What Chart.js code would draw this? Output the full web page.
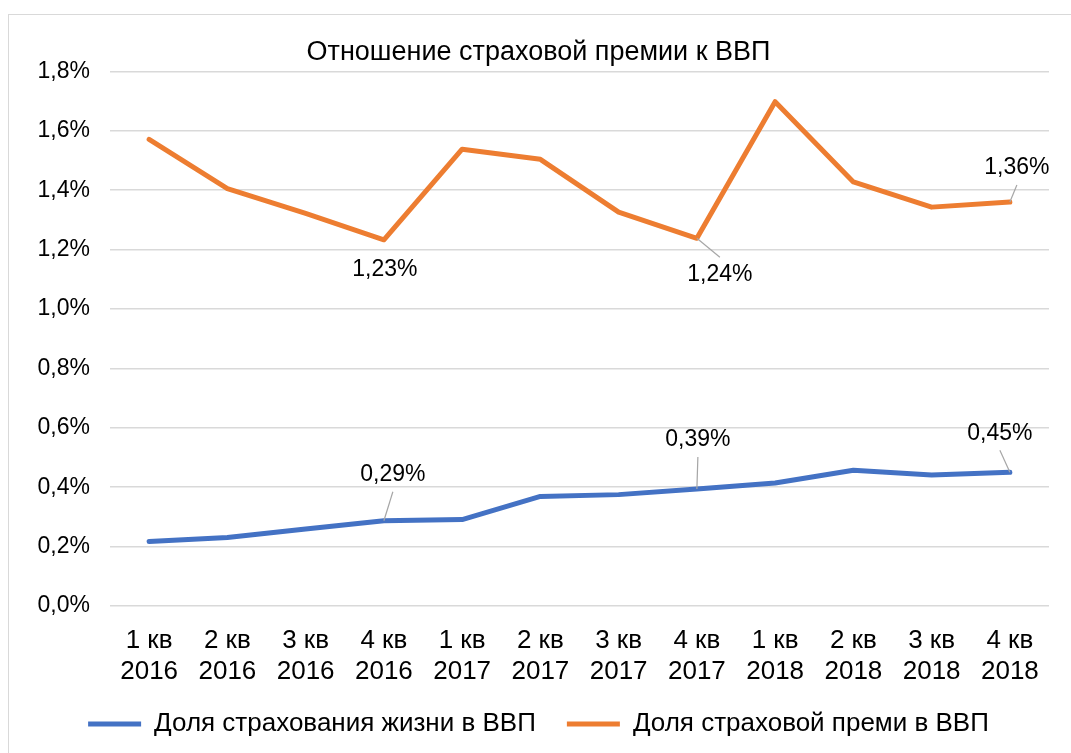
<!DOCTYPE html>
<html><head><meta charset="utf-8">
<script src="https://cdn.jsdelivr.net/npm/chart.js@4/dist/chart.umd.min.js"></script>
<style>
html,body{margin:0;padding:0;background:#fff;overflow:hidden;width:1071px;height:753px}
#frame{position:absolute;left:8px;top:14px;width:1100px;height:800px;border:1px solid #d9d9d9}
#wrap{position:absolute;left:0;top:0;width:1071px;height:753px}
</style></head>
<body>
<div id="frame"></div>
<div id="wrap"><canvas id="c" width="1071" height="753"></canvas></div>
<script>
const categories = [
  ['1 кв','2016'],['2 кв','2016'],['3 кв','2016'],['4 кв','2016'],
  ['1 кв','2017'],['2 кв','2017'],['3 кв','2017'],['4 кв','2017'],
  ['1 кв','2018'],['2 кв','2018'],['3 кв','2018'],['4 кв','2018']
];
const lifeShare    = [0.217, 0.231, 0.259, 0.287, 0.291, 0.369, 0.375, 0.394, 0.414, 0.457, 0.441, 0.450];
const premiumShare = [1.571, 1.405, 1.322, 1.233, 1.538, 1.504, 1.326, 1.238, 1.698, 1.428, 1.343, 1.360];
const seriesNames  = ['Доля страхования жизни в ВВП', 'Доля страховой преми в ВВП'];
const yMin = 0, yMax = 1.8, yStep = 0.2;
const lifeLabelIdx = [3, 7, 11];
const premiumLabelIdx = [3, 7, 11];
const titleText = 'Отношение страховой премии к ВВП';

const FONT = "'Liberation Sans', Arial, sans-serif";
const fmt = (v, d) => v.toFixed(d).replace('.', ',') + '%';

// label placement relative to the point (dx, dy of label centre), leader line flag
const labelPlacement = {
  0: {3: {dx: 9, dy: -46, lead: true}, 7: {dx: 1, dy: -49, lead: true}, 11: {dx: -10, dy: -39, lead: true}},
  1: {3: {dx: 1, dy: 30, lead: false}, 7: {dx: 23, dy: 36, lead: true}, 11: {dx: 7, dy: -34, lead: true}}
};
const labelIdx = [lifeLabelIdx, premiumLabelIdx];

const dataLabels = {
  id: 'dataLabels',
  afterDatasetsDraw(chart) {
    const ctx = chart.ctx;
    ctx.save();
    ctx.font = '23px ' + FONT;
    ctx.textAlign = 'center';
    ctx.textBaseline = 'middle';
    chart.data.datasets.forEach((ds, di) => {
      const meta = chart.getDatasetMeta(di);
      labelIdx[di].forEach(idx => {
        const pt = meta.data[idx];
        const p = labelPlacement[di][idx];
        const cx = pt.x + p.dx, cy = pt.y + p.dy;
        if (p.lead) {
          const ey = cy + (p.dy < 0 ? 17 : -17);
          ctx.strokeStyle = '#a6a6a6';
          ctx.lineWidth = 1.2;
          ctx.beginPath();
          ctx.moveTo(pt.x, pt.y);
          ctx.lineTo(cx, ey);
          ctx.stroke();
        }
        ctx.fillStyle = '#000';
        ctx.fillText(fmt(ds.data[idx], 2), cx, cy);
      });
    });
    ctx.restore();
  }
};

new Chart(document.getElementById('c'), {
  type: 'line',
  data: {
    labels: categories,
    datasets: [
      {label: seriesNames[0], data: lifeShare, borderColor: '#4472C4', backgroundColor: '#4472C4',
       borderWidth: 5, pointRadius: 0, tension: 0, borderCapStyle: 'round', borderJoinStyle: 'round'},
      {label: seriesNames[1], data: premiumShare, borderColor: '#ED7D31', backgroundColor: '#ED7D31',
       borderWidth: 5, pointRadius: 0, tension: 0, borderCapStyle: 'round', borderJoinStyle: 'round'}
    ]
  },
  options: {
    responsive: false,
    animation: false,
    devicePixelRatio: 1,
    layout: {padding: {left: 28, right: 22, top: 0, bottom: 6}},
    plugins: {
      title: {display: true, text: titleText, color: '#000', font: {family: FONT, size: 27, weight: 'normal'},
              padding: {top: 36, bottom: 3}},
      legend: {position: 'bottom', labels: {usePointStyle: true, pointStyle: 'line', pointStyleWidth: 53,
               color: '#000', font: {family: FONT, size: 26}, padding: 31}},
      tooltip: {enabled: false}
    },
    scales: {
      x: {
        offset: true,
        grid: {display: false, drawTicks: false},
        border: {display: false},
        ticks: {color: '#000', font: {family: FONT, size: 26, lineHeight: 1.17}, padding: 20, maxRotation: 0, autoSkip: false},
        afterFit: s => { s.height = 74; }
      },
      y: {
        min: yMin, max: yMax,
        grid: {color: '#d9d9d9', lineWidth: 1.5, drawTicks: false},
        border: {display: false},
        ticks: {stepSize: yStep, color: '#000', font: {family: FONT, size: 23}, padding: 20,
                callback: v => fmt(v, 1)},
        afterFit: s => { s.width = 82; }
      }
    }
  },
  plugins: [dataLabels]
});
</script>
</body></html>
